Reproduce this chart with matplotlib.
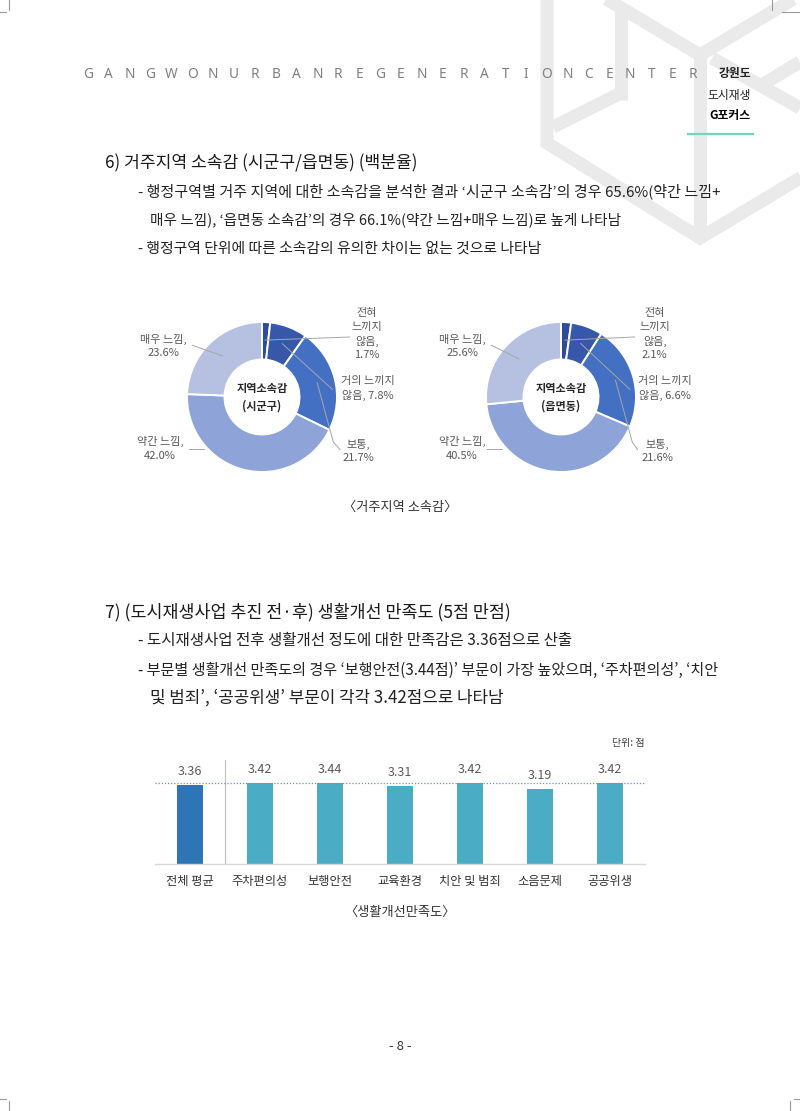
import matplotlib
matplotlib.use('Agg')
import matplotlib.pyplot as plt
import numpy as np

plt.rcParams['font.family'] = ['Noto Sans CJK KR', 'DejaVu Sans']

# ---------------- data ----------------
header_letters = list("GANGWONURBANREGENERATIONCENTER")
side_title = ['강원도', '도시재생', 'G포커스']

section6_title = '6) 거주지역 소속감 (시군구/읍면동) (백분율)'
section6_lines = [
    '- 행정구역별 거주 지역에 대한 소속감을 분석한 결과 ‘시군구 소속감’의 경우 65.6%(약간 느낌+',
    '매우 느낌), ‘읍면동 소속감’의 경우 66.1%(약간 느낌+매우 느낌)로 높게 나타남',
    '- 행정구역 단위에 따른 소속감의 유의한 차이는 없는 것으로 나타남',
]
section7_title = '7) (도시재생사업 추진 전·후) 생활개선 만족도 (5점 만점)'
section7_lines = [
    '- 도시재생사업 전후 생활개선 정도에 대한 만족감은 3.36점으로 산출',
    '- 부문별 생활개선 만족도의 경우 ‘보행안전(3.44점)’ 부문이 가장 높았으며, ‘주차편의성’, ‘치안',
    '및 범죄’, ‘공공위생’ 부문이 각각 3.42점으로 나타남',
]

donut_categories = ['전혀\n느끼지\n않음', '거의 느끼지\n않음', '보통', '약간 느낌', '매우 느낌']
sigungu_values = [1.7, 7.8, 21.7, 42.0, 23.6]
eupmyeondong_values = [2.1, 6.6, 21.6, 40.5, 25.6]
donut_center_titles = ['지역소속감\n(시군구)', '지역소속감\n(읍면동)']
donut_caption = '〈거주지역 소속감〉'

bar_categories = ['전체 평균', '주차편의성', '보행안전', '교육환경', '치안 및 범죄', '소음문제', '공공위생']
bar_values = [3.36, 3.42, 3.44, 3.31, 3.42, 3.19, 3.42]
bar_reference = 3.42
bar_unit = '단위: 점'
bar_caption = '〈생활개선만족도〉'
page_number = '- 8 -'

# ---------------- figure ----------------
W, H = 800, 1111
fig = plt.figure(figsize=(8, 11.11), dpi=100)
bg = fig.add_axes([0, 0, 1, 1])
bg.set_xlim(0, W)
bg.set_ylim(H, 0)
bg.axis('off')
renderer = fig.canvas.get_renderer()


def ax_px(left, top, width, height):
    a = fig.add_axes([left / W, 1 - (top + height) / H, width / W, height / H])
    a.patch.set_alpha(0)
    return a


def fit_text(x, y, s, width, size, ha='left', **kw):
    t = bg.text(x, y, s, fontsize=size, va='center', ha=ha, **kw)
    w = t.get_window_extent(renderer).width
    t.set_fontsize(size * width / w)
    return t


# watermark (background logo)
wm_color = '#EAEAEA'
wm_lw = 9.4
wm_paths = [
    [(547, -5), (547, 143), (700, 238), (805, 175)],
    [(700, 238), (700, 55)],
    [(603, -3), (700, 55), (800, -5)],
    [(553, 127), (621, 93)],
    [(621, 100), (621, 12)],
    [(712, 58), (800, 108)],
    [(760, 86), (800, 62)],
]
for p in wm_paths:
    xs, ys = zip(*p)
    bg.plot(xs, ys, color=wm_color, lw=wm_lw, solid_capstyle='butt', solid_joinstyle='miter', zorder=0)

# corner marks
cm = dict(color='#9A9A9A', lw=0.8, zorder=1)
bg.plot([9, 9], [0, 10], **cm); bg.plot([0, 6], [12, 12], **cm)
bg.plot([772, 772], [0, 10], **cm); bg.plot([782, 800], [12, 12], **cm)
bg.plot([9, 9], [1101, 1111], **cm); bg.plot([0, 6], [1099, 1099], **cm)
bg.plot([790, 790], [1101, 1111], **cm); bg.plot([794, 800], [1099, 1099], **cm)

# header
for i, ch in enumerate(header_letters):
    bg.text(88 + i * 20.86, 75, ch, ha='center', va='center', fontsize=9.8,
            color='#7F7F7F', family=['Noto Sans', 'DejaVu Sans'])
bg.text(751, 74, side_title[0], ha='right', va='center', fontsize=8.5, color='#222222', fontweight='bold')
bg.text(751, 95, side_title[1], ha='right', va='center', fontsize=8.5, color='#222222')
bg.text(751, 116, side_title[2], ha='right', va='center', fontsize=8.5, color='#000000', fontweight='bold')
bg.plot([688, 753], [134, 134], color='#6ED8B8', lw=1.6, zorder=2)

# section texts
fit_text(105, 163, section6_title, 313, 12, color='#1A1A1A', fontweight='medium')
fit_text(138, 191, section6_lines[0], 580, 10, color='#222222')
fit_text(150, 220, section6_lines[1], 470, 10, color='#222222')
fit_text(138, 249, section6_lines[2], 403, 10, color='#222222')
bg.text(400, 507, donut_caption, ha='center', va='center', fontsize=9.5, color='#333333')

fit_text(105, 612, section7_title, 406, 12, color='#1A1A1A', fontweight='medium')
fit_text(138, 640, section7_lines[0], 434, 10, color='#222222')
fit_text(138, 670, section7_lines[1], 580, 10, color='#222222')
fit_text(150, 698, section7_lines[2], 354, 10, color='#222222')
bg.text(400, 912, bar_caption, ha='center', va='center', fontsize=9.5, color='#333333')

bg.text(400, 1047, page_number, ha='center', va='center', fontsize=9.5, color='#333333')

# ---------------- donuts ----------------
donut_colors = ['#2C4B9B', '#3758AA', '#4470C4', '#8EA3D7', '#B6C1E2']
label_seps = [',\n', ', ', ',\n', ',\n', ',\n']


def draw_donut(cx, cy, values, center_title, label_xy, leader_ends):
    R = 75.0
    ax = ax_px(cx - 150, cy - 100, 300, 200)
    ax.pie(values, colors=donut_colors, startangle=90, counterclock=False, radius=1.0,
           wedgeprops=dict(width=0.5, edgecolor='white', linewidth=1.4))
    ax.set_xlim(-2, 2)
    ax.set_ylim(-100 / R, 100 / R)
    ax.set_aspect('equal')
    ax.axis('off')
    frac = np.array(values) / np.sum(values)
    starts = np.concatenate([[0], np.cumsum(frac)[:-1]])
    mids = np.deg2rad(90 - 360 * (starts + frac / 2))
    for i, (cat, v) in enumerate(zip(donut_categories, values)):
        lx, ly = label_xy[i]
        ax.text(lx, ly, f'{cat}{label_seps[i]}{v:.1f}%', ha='center', va='center',
                fontsize=8.0, color='#595959', linespacing=1.45)
        pts = list(leader_ends[i])
        if i != 3:
            pts = [(0.76 * np.cos(mids[i]), 0.76 * np.sin(mids[i]))] + pts
        xs, ys = zip(*pts)
        ax.plot(xs, ys, color='#A6A6A6', lw=0.7)
    ax.text(0, 0, center_title, ha='center', va='center', fontsize=8.0,
            fontweight='bold', color='#262626', linespacing=1.45)


draw_donut(262, 397, sigungu_values, donut_center_titles[0],
           [(1.40, 0.84), (1.41, 0.11), (1.28, -0.72), (-1.36, -0.69), (-1.32, 0.68)],
           [[(1.17, 0.80)], [(0.94, 0.10)], [(0.95, -0.60), (1.04, -0.70)],
            [(-0.97, -0.69), (-0.78, -0.69)], [(-0.93, 0.69)]])
draw_donut(561, 397, eupmyeondong_values, donut_center_titles[1],
           [(1.25, 0.84), (1.39, 0.11), (1.29, -0.72), (-1.32, -0.69), (-1.31, 0.68)],
           [[(0.98, 0.80)], [(0.92, 0.10)], [(0.95, -0.60), (1.02, -0.70)],
            [(-0.99, -0.69), (-0.79, -0.69)], [(-0.93, 0.69)]])

# ---------------- bar chart ----------------
bax = ax_px(155, 760, 490, 104)
x = np.arange(len(bar_categories))
bar_colors = ['#2E75B6'] + ['#4BACC6'] * (len(bar_categories) - 1)
bax.bar(x, bar_values, width=0.38, color=bar_colors, zorder=2)
bax.set_xlim(-0.5, len(x) - 0.5)
bax.set_ylim(0, 4.4)
bax.axhline(bar_reference, color='#5B9BD5', lw=0.9, ls=(0, (1, 1.5)), zorder=3)
bax.axvline(0.5, color='#BFBFBF', lw=0.8, zorder=1)
for xi, v in zip(x, bar_values):
    bax.annotate(f'{v:.2f}', (xi, v), xytext=(0, 9.5), textcoords='offset points',
                 ha='center', va='center', fontsize=9, color='#595959')
for s in ['top', 'right', 'left']:
    bax.spines[s].set_visible(False)
bax.spines['bottom'].set_color('#D9D9D9')
bax.spines['bottom'].set_linewidth(1.0)
bax.set_xticks(x, bar_categories, fontsize=8.8, color='#333333')
bax.tick_params(axis='x', length=0, pad=8)
bax.set_yticks([])
bg.text(645, 743, bar_unit, ha='right', va='center', fontsize=7.2, color='#404040')

fig.savefig('out.png', dpi=100)
